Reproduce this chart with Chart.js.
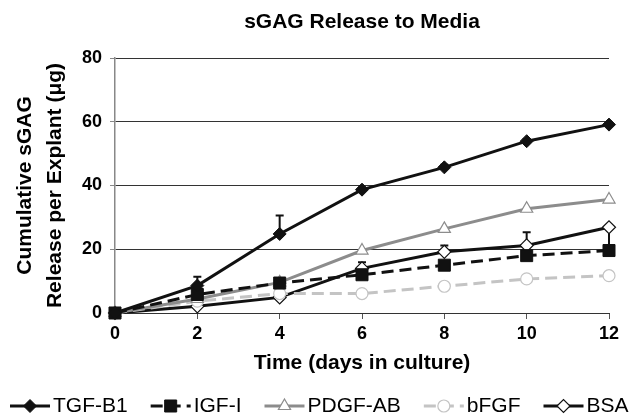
<!DOCTYPE html>
<html>
<head>
<meta charset="utf-8">
<script src="https://cdn.jsdelivr.net/npm/chart.js@4.4.0/dist/chart.umd.min.js"></script>
<style>
  html, body { margin: 0; padding: 0; background: #fff; }
</style>
</head>
<body>
<canvas id="myChart" width="632" height="416"></canvas>
<script>
// values
const days = [0, 2, 4, 6, 8, 10, 12];
const tgfB1 = [0, 8.6, 24.8, 38.7, 45.7, 53.9, 59.1];
const igfI = [0, 5.8, 9.4, 12.0, 15.0, 18.0, 19.6];
const pdgfAB = [0, 4.4, 9.6, 19.6, 26.4, 32.7, 35.6];
const bfgf = [0, 3.7, 6.1, 6.1, 8.4, 10.7, 11.7];
const bsa = [0, 2.1, 4.9, 14.0, 19.2, 21.2, 26.9];

// upper error bars
const tgfB1Err = [0, 2.8, 5.8, 0.6, 0.8, 0.6, 0.6];
const igfIErr = [0, 0, 0, 0, 0, 0, 7.0];
const bsaErr = [0, 0, 0, 1.9, 2.0, 4.1, 0];

const yTicks = [0, 20, 40, 60, 80];
const fontFamily = 'Arial, "Liberation Sans", sans-serif';

function toPoints(values) {
    return values.map((v, i) => ({ x: days[i], y: v }));
}

// error bars drawn under the lines
const errorBars = {
    id: 'errorBars',
    beforeDatasetsDraw(chart) {
        const ctx = chart.ctx;
        const xs = chart.scales.x;
        const ys = chart.scales.y;
        chart.data.datasets.forEach(ds => {
            if (!ds.errors) return;
            ctx.save();
            ctx.strokeStyle = ds.borderColor;
            ctx.lineWidth = 2;
            ds.errors.forEach((e, i) => {
                if (!e) return;
                const px = xs.getPixelForValue(ds.data[i].x);
                const y0 = ys.getPixelForValue(ds.data[i].y);
                const y1 = ys.getPixelForValue(ds.data[i].y + e);
                ctx.beginPath();
                ctx.moveTo(px, y0);
                ctx.lineTo(px, y1);
                ctx.moveTo(px - 4, y1);
                ctx.lineTo(px + 4, y1);
                ctx.stroke();
            });
            ctx.restore();
        });
    }
};

// legend row: line with marker, then label
const lineLegend = {
    id: 'lineLegend',
    afterDraw(chart) {
        const ctx = chart.ctx;
        const y = 406;
        let x = 10;
        ctx.save();
        ctx.font = '21px ' + fontFamily;
        ctx.textBaseline = 'middle';
        ctx.textAlign = 'left';
        chart.data.datasets.forEach(ds => {
            ctx.strokeStyle = ds.borderColor;
            ctx.lineWidth = ds.borderWidth;
            ctx.setLineDash(ds.borderDash || []);
            ctx.beginPath();
            ctx.moveTo(x, y);
            ctx.lineTo(x + 40, y);
            ctx.stroke();
            ctx.setLineDash([]);
            ctx.fillStyle = ds.pointBackgroundColor;
            ctx.strokeStyle = ds.pointBorderColor;
            ctx.lineWidth = ds.pointBorderWidth;
            Chart.helpers.drawPoint(ctx, {
                pointStyle: ds.pointStyle,
                radius: ds.pointRadius,
                borderWidth: ds.pointBorderWidth,
                rotation: 0
            }, x + 20, y);
            ctx.fillStyle = '#000';
            ctx.fillText(ds.label, x + 43, y);
            x += 43 + ctx.measureText(ds.label).width + 23;
        });
        ctx.restore();
    }
};

const ctx = document.getElementById('myChart');

new Chart(ctx, {
    type: 'line',
    data: {
        datasets: [
            {
                label: 'TGF-B1',
                data: toPoints(tgfB1),
                errors: tgfB1Err,
                borderColor: '#111',
                borderWidth: 3,
                pointStyle: 'rectRot',
                pointRadius: 6.5,
                pointBackgroundColor: '#111',
                pointBorderColor: '#111',
                pointBorderWidth: 1
            },
            {
                label: 'IGF-I',
                data: toPoints(igfI),
                errors: igfIErr,
                borderColor: '#111',
                borderWidth: 3,
                borderDash: [12, 6],
                pointStyle: 'rect',
                pointRadius: 8.5,
                pointBackgroundColor: '#111',
                pointBorderColor: '#111',
                pointBorderWidth: 1
            },
            {
                label: 'PDGF-AB',
                data: toPoints(pdgfAB),
                borderColor: '#8c8c8c',
                borderWidth: 3,
                pointStyle: 'triangle',
                pointRadius: 7,
                pointBackgroundColor: '#fff',
                pointBorderColor: '#8c8c8c',
                pointBorderWidth: 1.2
            },
            {
                label: 'bFGF',
                data: toPoints(bfgf),
                borderColor: '#c4c4c4',
                borderWidth: 3,
                borderDash: [12, 6],
                pointStyle: 'circle',
                pointRadius: 6,
                pointBackgroundColor: '#fff',
                pointBorderColor: '#c4c4c4',
                pointBorderWidth: 1.2
            },
            {
                label: 'BSA',
                data: toPoints(bsa),
                errors: bsaErr,
                borderColor: '#111',
                borderWidth: 3,
                pointStyle: 'rectRot',
                pointRadius: 6.5,
                pointBackgroundColor: '#fff',
                pointBorderColor: '#111',
                pointBorderWidth: 1.2
            }
        ]
    },
    options: {
        responsive: false,
        animation: false,
        devicePixelRatio: 1,
        clip: false,
        layout: { padding: { left: 0, right: 23, top: 0, bottom: 36 } },
        elements: { line: { tension: 0 } },
        plugins: {
            legend: { display: false },
            tooltip: { enabled: false },
            title: {
                display: true,
                fullSize: false,
                text: 'sGAG Release to Media',
                color: '#000',
                font: { family: fontFamily, size: 21, weight: 'bold', lineHeight: 1.2 },
                padding: { top: 10, bottom: 22.8 }
            }
        },
        scales: {
            x: {
                type: 'linear',
                min: 0,
                max: 12,
                afterFit: scale => { scale.height = 67; },
                ticks: {
                    stepSize: 2,
                    color: '#000',
                    padding: 4,
                    font: { family: fontFamily, size: 18, weight: 'bold' }
                },
                grid: {
                    drawOnChartArea: false,
                    drawTicks: true,
                    tickLength: 6,
                    tickColor: '#555',
                    tickWidth: 1
                },
                border: { display: true, color: '#333', width: 1 },
                title: {
                    display: true,
                    text: 'Time (days in culture)',
                    color: '#000',
                    font: { family: fontFamily, size: 21, weight: 'bold', lineHeight: 1.2 },
                    padding: { top: 0, bottom: 4.4 }
                }
            },
            y: {
                min: 0,
                max: 80,
                afterFit: scale => { scale.width = 115; },
                afterBuildTicks: scale => { scale.ticks = yTicks.map(v => ({ value: v })); },
                ticks: {
                    color: '#000',
                    padding: 8,
                    font: { family: fontFamily, size: 18, weight: 'bold' }
                },
                grid: {
                    color: '#333',
                    lineWidth: 1,
                    drawTicks: true,
                    tickLength: 5,
                    tickColor: '#888'
                },
                border: { display: true, color: '#888', width: 1.5 },
                title: {
                    display: true,
                    text: ['Cumulative sGAG', 'Release per Explant (\u03bcg)'],
                    color: '#000',
                    font: { family: fontFamily, size: 21, weight: 'bold', lineHeight: 30 / 21 },
                    padding: { top: 10, bottom: 0 }
                }
            }
        }
    },
    plugins: [errorBars, lineLegend]
});
</script>
</body>
</html>
